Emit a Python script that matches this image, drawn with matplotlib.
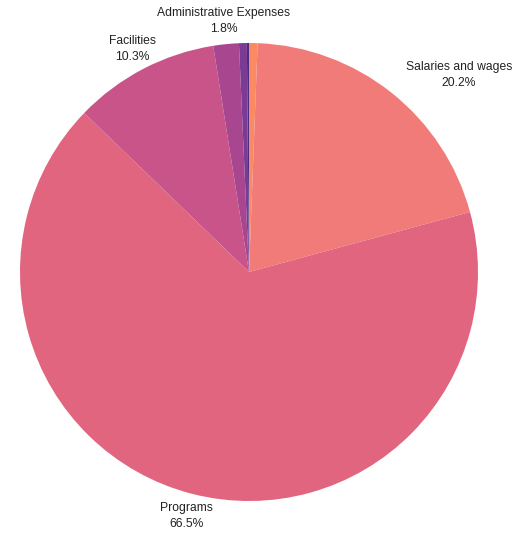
import matplotlib.pyplot as plt
import numpy as np

# Slices in clockwise order from 12 o'clock
labels = ["Other", "Salaries and wages", "Programs", "Facilities",
          "Administrative Expenses", "Travel", "Misc"]
shares = [0.6, 20.2, 66.5, 10.3, 1.8, 0.55, 0.15]
show_label = [False, True, True, True, True, False, False]
colors = ["#fb8a62", "#f07b78", "#e1657f", "#c9548a", "#a8478f", "#7b3a93", "#4c2d85"]

plt.rcParams['font.family'] = ['Liberation Sans', 'DejaVu Sans']

fig = plt.figure(figsize=(5.27, 5.35), dpi=100)
cx, cy, r = 249, 272, 229
ax = fig.add_axes([(cx - r) / 527, (535 - cy - r) / 535, 2 * r / 527, 2 * r / 535])

wedges, _ = ax.pie(shares, colors=colors, startangle=90, counterclock=False,
                   wedgeprops=dict(linewidth=0))
ax.set_xlim(-1, 1)
ax.set_ylim(-1, 1)
ax.set_aspect('auto')
ax.axis('off')

for w, lab, val, show in zip(wedges, labels, shares, show_label):
    if not show:
        continue
    ang = np.deg2rad((w.theta1 + w.theta2) / 2)
    x, y = 1.1 * np.cos(ang), 1.1 * np.sin(ang)
    ha = 'left' if x > 0.5 else 'center'
    ax.text(x, y, f"{lab}\n{val:.1f}%", ha=ha, va='center', multialignment='center',
            fontsize=8.7, color='#222222', linespacing=1.45, clip_on=False)

fig.savefig("out.png", dpi=100, facecolor='white')
